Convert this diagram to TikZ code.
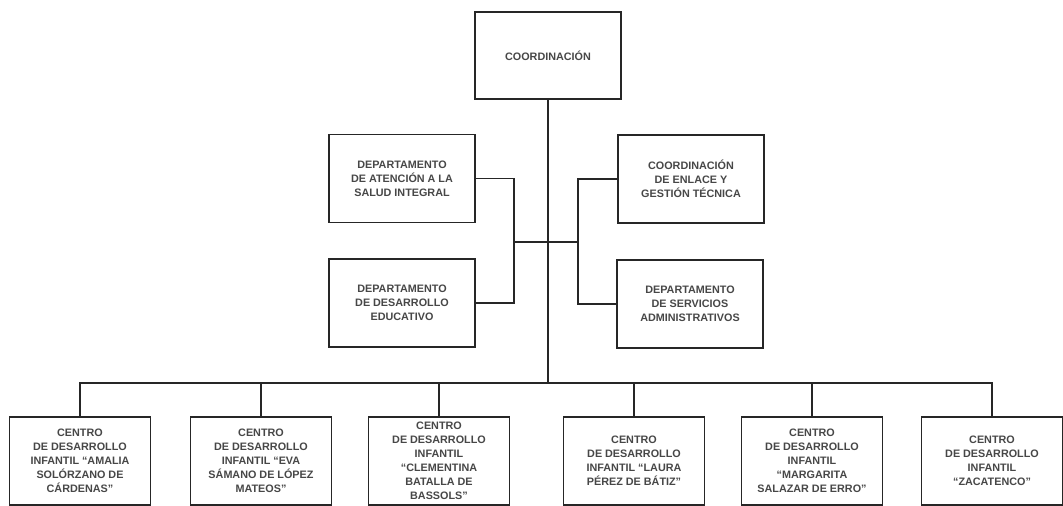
\documentclass[tikz,border=0pt]{standalone}
\usepackage{fontspec}
\setmainfont{Liberation Sans}
\begin{document}
\begin{tikzpicture}[x=1pt,y=-1pt,
  box/.style={draw=black!85,line width=1.6pt,fill=white,rectangle,align=center,
    font=\fontsize{10.8}{14}\selectfont\bfseries,text=black!72,inner sep=2pt},
  topbox/.style={box,minimum width=146pt,minimum height=87pt},
  midbox/.style={box,minimum width=146pt,minimum height=88pt},
  cdibox/.style={box,minimum width=141pt,minimum height=88pt},
  conn/.style={draw=black!85,line width=1.6pt}]
\useasboundingbox (0,0) rectangle (1063,506);
\fill[white] (0,0) rectangle (1063,506);
% nodes
\node[topbox] (coord) at (548,55.5) {COORDINACIÓN};
\node[midbox] (att) at (402,178.5) {DEPARTAMENTO\\DE ATENCIÓN A LA\\SALUD INTEGRAL};
\node[midbox] (enl) at (691,179) {COORDINACIÓN\\DE ENLACE Y\\GESTIÓN TÉCNICA};
\node[midbox] (edu) at (402,303) {DEPARTAMENTO\\DE DESARROLLO\\EDUCATIVO};
\node[midbox] (serv) at (690,304) {DEPARTAMENTO\\DE SERVICIOS\\ADMINISTRATIVOS};
\node[cdibox] (c1) at (80,461) {CENTRO\\DE DESARROLLO\\INFANTIL ``AMALIA\\SOLÓRZANO DE\\CÁRDENAS''};
\node[cdibox] (c2) at (261,461) {CENTRO\\DE DESARROLLO\\INFANTIL ``EVA\\SÁMANO DE LÓPEZ\\MATEOS''};
\node[cdibox] (c3) at (439,461) {CENTRO\\DE DESARROLLO\\INFANTIL\\``CLEMENTINA\\BATALLA DE\\BASSOLS''};
\node[cdibox] (c4) at (634,461) {CENTRO\\DE DESARROLLO\\INFANTIL ``LAURA\\PÉREZ DE BÁTIZ''};
\node[cdibox] (c5) at (812,461) {CENTRO\\DE DESARROLLO\\INFANTIL\\``MARGARITA\\SALAZAR DE ERRO''};
\node[cdibox] (c6) at (992,461) {CENTRO\\DE DESARROLLO\\INFANTIL\\``ZACATENCO''};
% junctions
\coordinate (jl) at (514,242);
\coordinate (jr) at (578,242);
\coordinate (bar) at (548,383);
% connectors
\draw[conn] (coord.south) -- (bar);
\draw[conn] (att.east) -| (jl);
\draw[conn] (edu.east) -| (jl);
\draw[conn] (jl) -- (jr);
\draw[conn] (enl.west) -| (jr);
\draw[conn] (serv.west) -| (jr);
\foreach \c in {c1,c2,c3,c4,c5,c6} {\draw[conn] (\c.north) |- (bar);}
\end{tikzpicture}
\end{document}
